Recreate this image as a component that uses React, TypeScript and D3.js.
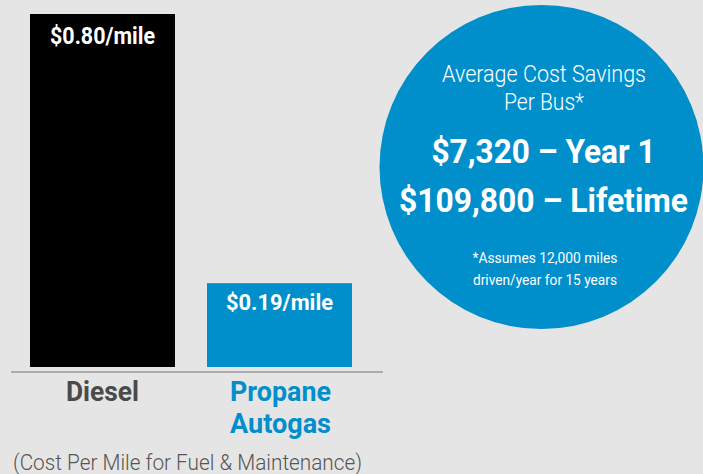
import React from "react";
import * as d3 from "d3";

const categories = ["Diesel", "Propane Autogas"];
const values = [0.8, 0.19];
const valueLabels = ["$0.80/mile", "$0.19/mile"];
const barColors = ["#000000", "#008fcb"];
const catLabelLines = [["Diesel"], ["Propane", "Autogas"]];
const catLabelColors = ["#4a4a4a", "#008fcb"];
const footnote = "(Cost Per Mile for Fuel & Maintenance)";
const circleTitle = ["Average Cost Savings", "Per Bus*"];
const circleBig = ["$7,320 \u2013 Year 1", "$109,800 \u2013 Lifetime"];
const circleNote = ["*Assumes 12,000 miles", "driven/year for 15 years"];

const W = 703;
const H = 474;
const FONT = "Roboto, 'Liberation Sans', sans-serif";

export default function App() {
  const x = d3.scaleBand<string>().domain(categories).range([30, 352]).paddingInner(32 / 177).paddingOuter(0);
  const y = d3.scaleLinear().domain([0, 0.8]).range([367, 14]);
  const bw = x.bandwidth();
  const valueLabelWidths = [105, 107];
  const valueLabelSizes = [23.5, 21.5];
  const catWidths: number[][] = [[73], [101, 101]];
  const cx = 541.5, cy = 167, r = 162;
  return (
    <svg
      width={W}
      height={H}
      style={{ display: "block", position: "fixed", left: 0, top: 0 }}
    >
      <rect x={0} y={0} width={W} height={H} fill="#e5e5e5" />
      {categories.map((c, i) => {
        const bx = x(c) as number;
        const top = y(values[i]);
        return (
          <g key={c}>
            <rect x={bx} y={top} width={bw} height={y(0) - top} fill={barColors[i]} />
            <text
              x={bx + bw / 2}
              y={top + (i === 0 ? 30 : 27)}
              textAnchor="middle"
              fill="#fff"
              fontFamily={FONT}
              fontWeight={700}
              fontSize={valueLabelSizes[i]}
              textLength={valueLabelWidths[i]}
              lengthAdjust="spacingAndGlyphs"
            >
              {valueLabels[i]}
            </text>
            {catLabelLines[i].map((t, j) => (
              <text
                key={t}
                x={bx + bw / 2 + (i === 0 ? 0 : 1)}
                y={401 + j * 32}
                textAnchor="middle"
                fill={catLabelColors[i]}
                fontFamily={FONT}
                fontWeight={700}
                fontSize={28.5}
                textLength={catWidths[i][j]}
                lengthAdjust="spacingAndGlyphs"
              >
                {t}
              </text>
            ))}
          </g>
        );
      })}
      <line x1={11} x2={383} y1={372} y2={372} stroke="#999" strokeWidth={1.5} />
      <text
        x={13}
        y={470}
        fill="#555"
        fontFamily={FONT}
        fontWeight={300}
        fontSize={22}
        textLength={349}
        lengthAdjust="spacingAndGlyphs"
      >
        {footnote}
      </text>
      <circle cx={cx} cy={cy} r={r} fill="#008fcb" />
      {circleTitle.map((t, j) => (
        <text
          key={t}
          x={544}
          y={82 + j * 28}
          textAnchor="middle"
          fill="#fff"
          fontFamily={FONT}
          fontWeight={300}
          fontSize={23}
          textLength={j === 0 ? 204 : 80}
          lengthAdjust="spacingAndGlyphs"
        >
          {t}
        </text>
      ))}
      {circleBig.map((t, j) => (
        <text
          key={t}
          x={543.5}
          y={163 + j * 49}
          textAnchor="middle"
          fill="#fff"
          fontFamily={FONT}
          fontWeight={700}
          fontSize={33.5}
          textLength={j === 0 ? 224 : 289}
          lengthAdjust="spacingAndGlyphs"
        >
          {t}
        </text>
      ))}
      {circleNote.map((t, j) => (
        <text
          key={t}
          x={545}
          y={263 + j * 22}
          textAnchor="middle"
          fill="#fff"
          fontFamily={FONT}
          fontWeight={400}
          fontSize={15}
          textLength={j === 0 ? 145 : 144}
          lengthAdjust="spacingAndGlyphs"
        >
          {t}
        </text>
      ))}
    </svg>
  );
}
